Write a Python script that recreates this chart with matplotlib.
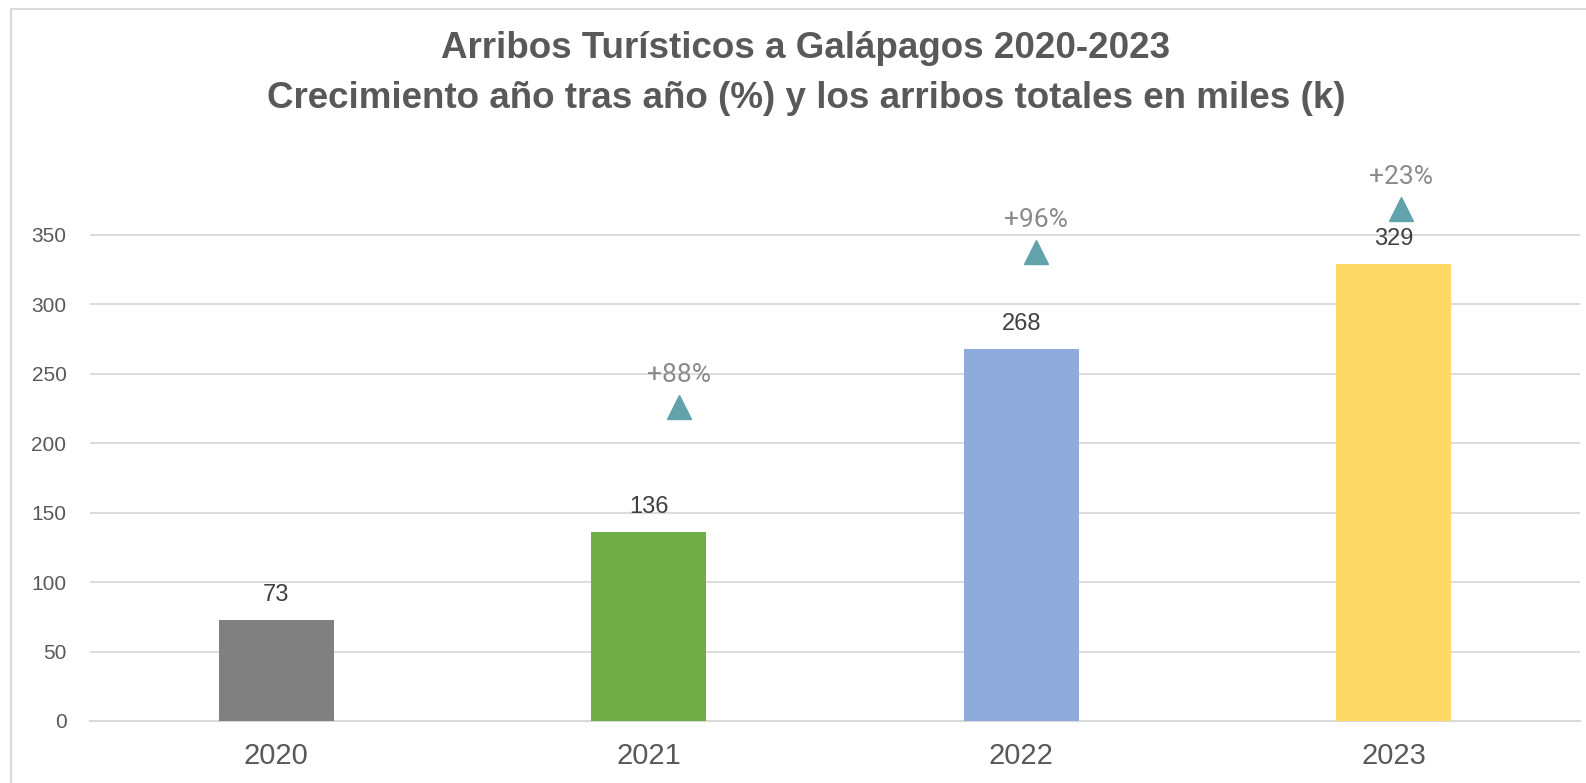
import matplotlib
matplotlib.use('Agg')
import matplotlib.pyplot as plt
from matplotlib.patches import Rectangle

plt.rcParams['font.family'] = ['Liberation Sans', 'DejaVu Sans']

# Data
years = ['2020', '2021', '2022', '2023']
arrivals_k = [73, 136, 268, 329]
bar_colors = ['#808080', '#70AD47', '#8FAADC', '#FFD966']
growth_x = [1.08, 2.04, 3.02]
growth_marker_y = [226, 338, 369]
growth_labels = ['+88%', '+96%', '+23%']

fig = plt.figure(figsize=(15.86, 7.83), dpi=100)
# light frame round the chart area (cut off at right/bottom like the reference)
fig.patches.append(Rectangle((11 / 1586, -0.1), 1.2, 1 - 9 / 783 + 0.1,
                             transform=fig.transFigure, fill=False,
                             edgecolor='#D9D9D9', linewidth=1.5))

ax = fig.add_axes([90 / 1586, 62 / 783, 1490 / 1586, 555.5 / 783])
x = list(range(len(years)))
ax.bar(x, arrivals_k, width=0.31, color=bar_colors, zorder=3)

for xi, v in zip(x, arrivals_k):
    ax.annotate(f'{v}', xy=(xi, v), xytext=(0, 18), textcoords='offset points',
                ha='center', va='center', fontsize=17, color='#404040', zorder=4)

ax.plot(growth_x, growth_marker_y, linestyle='none', marker='^',
        markersize=17, color='#62A3AB', zorder=4)
for xi, yv, lab in zip(growth_x, growth_marker_y, growth_labels):
    ax.annotate(lab, xy=(xi, yv), xytext=(0, 23), textcoords='offset points',
                ha='center', va='center', fontsize=19, color='#8A8A8A',
                family=['Roboto', 'DejaVu Sans'], zorder=4)

ax.set_xlim(-0.5, 3.5)
ax.set_ylim(0, 400)
ax.set_yticks(range(0, 351, 50))
ax.set_xticks(x)
ax.set_xticklabels(years)
ax.tick_params(axis='y', length=0, labelsize=15, labelcolor='#595959', pad=17)
ax.tick_params(axis='x', length=0, labelsize=21, labelcolor='#595959', pad=15)
ax.grid(axis='y', color='#D9D9D9', linewidth=1.3, zorder=0)
ax.set_axisbelow(True)
for s in ['top', 'right', 'left']:
    ax.spines[s].set_visible(False)
ax.spines['bottom'].set_color('#D9D9D9')
ax.spines['bottom'].set_linewidth(1.5)

fig.text(806 / 1586, 1 - 49 / 783, 'Arribos Turísticos a Galápagos 2020-2023',
         ha='center', va='center', fontsize=26.5, fontweight='bold', color='#595959')
fig.text(806 / 1586, 1 - 98 / 783,
         'Crecimiento año tras año (%) y los arribos totales en miles (k)',
         ha='center', va='center', fontsize=26.5, fontweight='bold', color='#595959')

fig.savefig('out.png', dpi=100)
